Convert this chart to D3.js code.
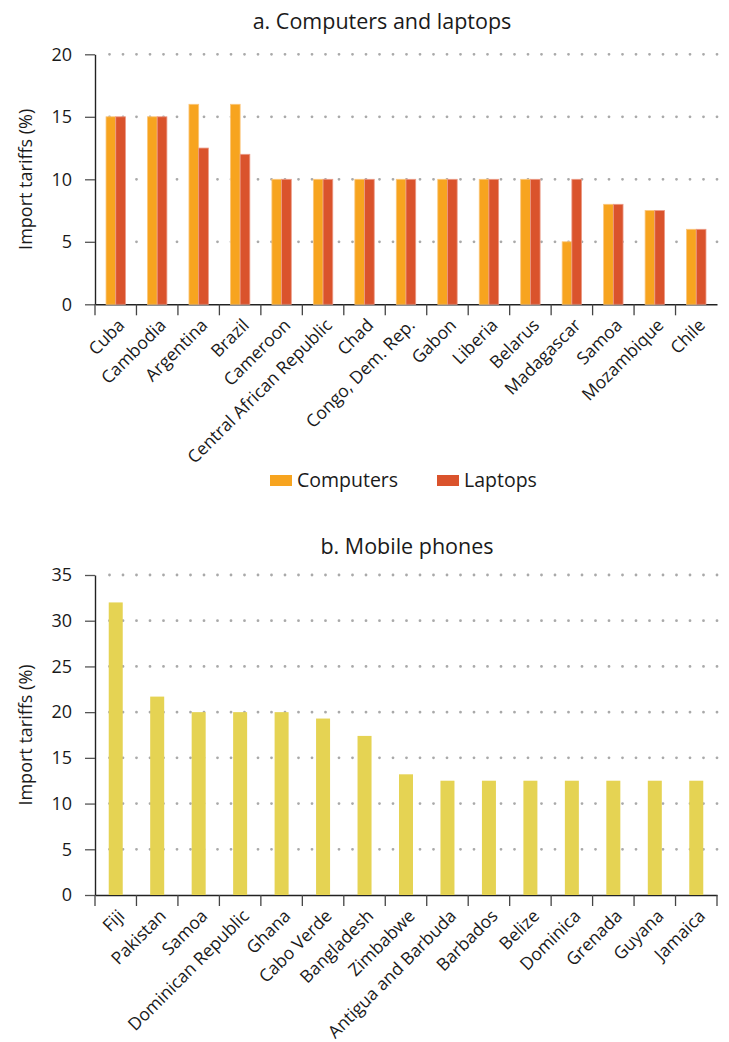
<!DOCTYPE html>
<html>
  <head>
    <meta charset="UTF-8" />
    <script src="https://d3js.org/d3.v7.min.js"></script>
    <style>
      body { margin: 0; background: #fff; }
      text { font-family: "Open Sans", sans-serif; fill: #1a1a1a; }
    </style>
  </head>
  <body>
    <div id="my_dataviz"></div>

    <script>
      // panel a
      var pcCountries = ["Cuba", "Cambodia", "Argentina", "Brazil", "Cameroon",
        "Central African Republic", "Chad", "Congo, Dem. Rep.", "Gabon", "Liberia",
        "Belarus", "Madagascar", "Samoa", "Mozambique", "Chile"];
      var computers = [15, 15, 16, 16, 10, 10, 10, 10, 10, 10, 10, 5, 8, 7.5, 6];
      var laptops = [15, 15, 12.5, 12, 10, 10, 10, 10, 10, 10, 10, 10, 8, 7.5, 6];
      var pcSeries = ["Computers", "Laptops"];
      var pcTicks = [0, 5, 10, 15, 20];

      // panel b
      var phoneCountries = ["Fiji", "Pakistan", "Samoa", "Dominican Republic", "Ghana",
        "Cabo Verde", "Bangladesh", "Zimbabwe", "Antigua and Barbuda", "Barbados",
        "Belize", "Dominica", "Grenada", "Guyana", "Jamaica"];
      var phones = [32, 21.7, 20, 20, 20, 19.3, 17.4, 13.2, 12.5, 12.5, 12.5, 12.5, 12.5, 12.5, 12.5];
      var phoneTicks = [0, 5, 10, 15, 20, 25, 30, 35];

      var colors = { Computers: "#F7A41F", Laptops: "#DA532C", Phones: "#E5D353" };
      var edges = { Computers: "#FBC67A", Laptops: "#EC9A86" };

      var width = 729, height = 1042;
      var left = 95, right = 717;

      var svg = d3.select("#my_dataviz").append("svg")
        .attr("width", width)
        .attr("height", height);

      function drawFrame(g, x, y, ticks, endTick) {
        // dotted grid
        g.append("g").selectAll("line")
          .data(ticks.filter(function (d) { return d > 0; }))
          .enter().append("line")
          .attr("x1", right).attr("x2", left + 12)
          .attr("y1", function (d) { return y(d); })
          .attr("y2", function (d) { return y(d); })
          .attr("stroke", "#a9a9a9")
          .attr("stroke-width", 2.8)
          .attr("stroke-linecap", "round")
          .attr("stroke-dasharray", "0,13.5");

        var yAxis = g.append("g")
          .attr("transform", "translate(" + left + ",0)")
          .call(d3.axisLeft(y).tickValues(ticks).tickSize(10).tickSizeOuter(0).tickPadding(13));
        yAxis.selectAll("text").style("font-size", "18px").attr("fill", "#1a1a1a");
        yAxis.selectAll("line").attr("stroke", "#555").attr("stroke-width", 1.3);
        yAxis.select(".domain").attr("stroke", "#222").attr("stroke-width", 1.4);

        var y0 = y(0);
        var xAxis = g.append("g")
          .attr("transform", "translate(0," + y0 + ")")
          .call(d3.axisBottom(x).tickSize(0).tickSizeOuter(0));
        xAxis.select(".domain").attr("stroke", "#222").attr("stroke-width", 1.4);
        xAxis.selectAll("text")
          .attr("x", 0).attr("y", 0).attr("dy", 0)
          .attr("text-anchor", "end")
          .attr("transform", "translate(10,22) rotate(-45)")
          .style("font-size", "17.5px")
          .attr("fill", "#1a1a1a");

        var bounds = x.domain().map(function (d) { return x(d); });
        if (endTick) bounds.push(right);
        g.append("g").selectAll("line")
          .data(bounds)
          .enter().append("line")
          .attr("x1", function (d) { return d; })
          .attr("x2", function (d) { return d; })
          .attr("y1", y0).attr("y2", y0 + 11)
          .attr("stroke", "#444")
          .attr("stroke-width", 1.3);

        g.append("text")
          .attr("transform", "translate(32," + (y.range()[0] + y.range()[1]) / 2 + ") rotate(-90)")
          .attr("text-anchor", "middle")
          .style("font-size", "18px")
          .text("Import tariffs (%)");
      }

      // ---- a. Computers and laptops
      var gA = svg.append("g");
      var xA = d3.scaleBand().domain(pcCountries).range([left, right]);
      var yA = d3.scaleLinear().domain([0, 20]).range([304.3, 54.3]);
      var xSub = d3.scaleBand().domain(pcSeries)
        .range([xA.bandwidth() / 2 - 9.7, xA.bandwidth() / 2 + 9.7]);

      gA.append("text")
        .attr("x", 382).attr("y", 29)
        .attr("text-anchor", "middle")
        .style("font-size", "21.5px")
        .text("a. Computers and laptops");

      var pcData = [];
      for (i = 0; i < pcCountries.length; i++) {
        pcData.push({ country: pcCountries[i], series: "Computers", value: computers[i] });
        pcData.push({ country: pcCountries[i], series: "Laptops", value: laptops[i] });
      }

      drawFrame(gA, xA, yA, pcTicks, false);

      gA.append("g").selectAll("rect")
        .data(pcData)
        .enter().append("rect")
        .attr("x", function (d) { return xA(d.country) + xSub(d.series); })
        .attr("width", xSub.bandwidth())
        .attr("y", function (d) { return yA(d.value); })
        .attr("height", function (d) { return yA(0) - yA(d.value); })
        .attr("fill", function (d) { return colors[d.series]; })
        .attr("stroke", function (d) { return edges[d.series]; })
        .attr("stroke-width", 0.8);

      // legend
      var legend = gA.append("g").selectAll("g")
        .data(pcSeries)
        .enter().append("g")
        .attr("transform", function (d, i) { return "translate(" + [270, 437][i] + ",475)"; });
      legend.append("rect")
        .attr("width", 22).attr("height", 11)
        .attr("fill", function (d) { return colors[d]; });
      legend.append("text")
        .attr("x", 27).attr("y", 11.5)
        .style("font-size", "19.5px")
        .text(function (d) { return d; });

      // ---- b. Mobile phones
      var gB = svg.append("g");
      var xB = d3.scaleBand().domain(phoneCountries).range([left, right]);
      var yB = d3.scaleLinear().domain([0, 35]).range([895, 575]);

      gB.append("text")
        .attr("x", 407).attr("y", 554)
        .attr("text-anchor", "middle")
        .style("font-size", "21.5px")
        .text("b. Mobile phones");

      drawFrame(gB, xB, yB, phoneTicks, true);

      var barW = 14;
      gB.append("g").selectAll("rect")
        .data(phones)
        .enter().append("rect")
        .attr("x", function (d, i) { return xB(phoneCountries[i]) + xB.bandwidth() / 2 - barW / 2; })
        .attr("width", barW)
        .attr("y", function (d) { return yB(d); })
        .attr("height", function (d) { return yB(0) - yB(d); })
        .attr("fill", colors.Phones);
    </script>
  </body>
</html>
